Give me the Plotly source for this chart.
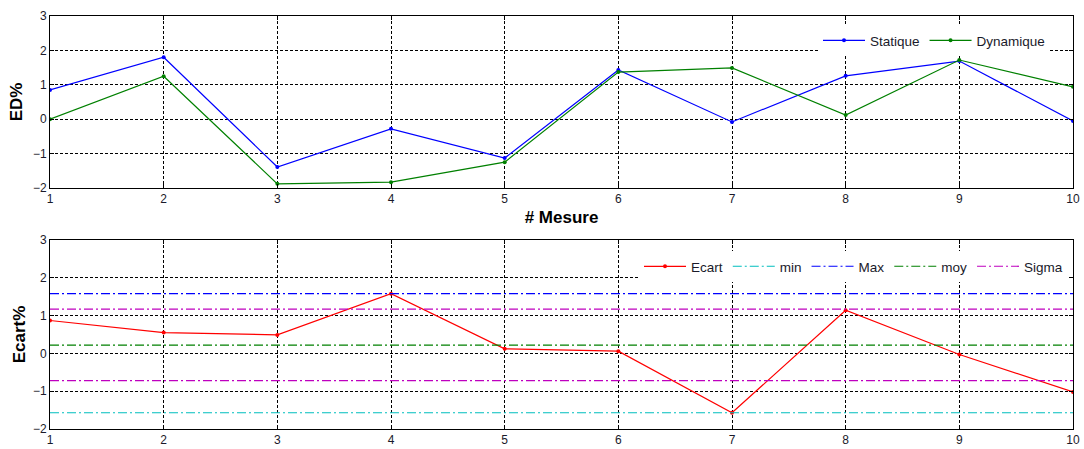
import plotly.graph_objects as go

mesure = [1, 2, 3, 4, 5, 6, 7, 8, 9, 10]
statique = [0.85, 1.80, -1.39, -0.28, -1.13, 1.43, -0.08, 1.26, 1.69, -0.05]
dynamique = [0.00, 1.25, -1.88, -1.83, -1.25, 1.37, 1.49, 0.12, 1.72, 0.94]
ecart = [0.87, 0.55, 0.49, 1.58, 0.12, 0.06, -1.57, 1.14, -0.03, -1.02]
val_min = -1.57
val_max = 1.58
val_moy = 0.22
sigma_hi = 1.17
sigma_lo = -0.72
y_ticks = [-2, -1, 0, 1, 2, 3]

W, H = 1084, 449
ML, MR, MT, MB = 50, 11, 16, 20
PH = H - MT - MB
PW = W - ML - MR
top_d = [1 - (188 - MT) / PH, 1.0]
bot_d = [0.0, 1 - (240 - MT) / PH]

fig = go.Figure()
mk = dict(symbol="circle", size=4)
fig.add_trace(go.Scatter(x=mesure, y=statique, mode="lines+markers", name="Statique",
                         line=dict(color="rgb(0,0,255)", width=1.2), marker=mk,
                         xaxis="x", yaxis="y", legend="legend"))
fig.add_trace(go.Scatter(x=mesure, y=dynamique, mode="lines+markers", name="Dynamique",
                         line=dict(color="rgb(0,128,0)", width=1.2), marker=mk,
                         xaxis="x", yaxis="y", legend="legend"))

fig.add_trace(go.Scatter(x=mesure, y=ecart, mode="lines+markers", name="Ecart",
                         line=dict(color="rgb(255,0,0)", width=1.2), marker=mk,
                         xaxis="x2", yaxis="y2", legend="legend2"))
xs = [mesure[0], mesure[-1]]
hl = [("min", val_min, "rgb(0,191,191)", True),
      ("Max", val_max, "rgb(0,0,255)", True),
      ("moy", val_moy, "rgb(0,128,0)", True),
      ("Sigma", sigma_hi, "rgb(191,0,191)", True),
      ("Sigma", sigma_lo, "rgb(191,0,191)", False)]
for name, v, c, show in hl:
    fig.add_trace(go.Scatter(x=xs, y=[v, v], mode="lines", name=name, showlegend=show,
                             legendgroup=name,
                             line=dict(color=c, width=1.2, dash="9px,3px,2px,3px"),
                             xaxis="x2", yaxis="y2", legend="legend2"))

tickfont = dict(family="Liberation Sans, Arial, sans-serif", size=12, color="#1a1a2a")
legfont = dict(family="Liberation Sans, Arial, sans-serif", size=13.5, color="#1a1a2a")
axcommon = dict(range=[1, 10], tickvals=mesure, showline=True, linecolor="black", linewidth=1,
                mirror="allticks", ticks="inside", ticklen=4, tickcolor="black",
                showgrid=True, gridcolor="black", gridwidth=1, griddash="3px,2px",
                zeroline=False, tickfont=tickfont, automargin=False)
aycommon = dict(range=[-2, 3], tickvals=y_ticks, showline=True, linecolor="black", linewidth=1,
                mirror="allticks", ticks="inside", ticklen=4, tickcolor="black",
                showgrid=True, gridcolor="black", gridwidth=1, griddash="3px,2px",
                zeroline=False, tickfont=tickfont, automargin=False)
titlefont = dict(family="Liberation Sans, Arial, sans-serif", size=17, color="black")

fig.update_layout(
    width=W, height=H, margin=dict(l=ML, r=MR, t=MT, b=MB, autoexpand=False),
    plot_bgcolor="white", paper_bgcolor="white", font=tickfont,
    xaxis=dict(**axcommon, anchor="y",
               title=dict(text="<b># Mesure</b>", font=titlefont, standoff=5)),
    yaxis=dict(**aycommon, domain=top_d, anchor="x",
               title=dict(text="<b>ED%</b>", font=titlefont, standoff=5)),
    xaxis2=dict(**axcommon, anchor="y2"),
    yaxis2=dict(**aycommon, domain=bot_d, anchor="x2",
                title=dict(text="<b>Ecart%</b>", font=titlefont, standoff=2)),
    legend=dict(orientation="h", xanchor="right", yanchor="top",
                x=(1050 - ML) / PW, y=1 - (25 - MT) / PH,
                bgcolor="white", borderwidth=0, font=legfont, itemwidth=42,
                tracegroupgap=0),
    legend2=dict(orientation="h", xanchor="right", yanchor="top",
                 x=(1068 - ML) / PW, y=1 - (251 - MT) / PH,
                 bgcolor="white", borderwidth=0, font=legfont, itemwidth=42,
                 tracegroupgap=0),
    showlegend=True,
)

fig.write_html("out.html", config={"displayModeBar": False},
               post_script="document.body.style.margin='0';document.body.style.padding='0';")
